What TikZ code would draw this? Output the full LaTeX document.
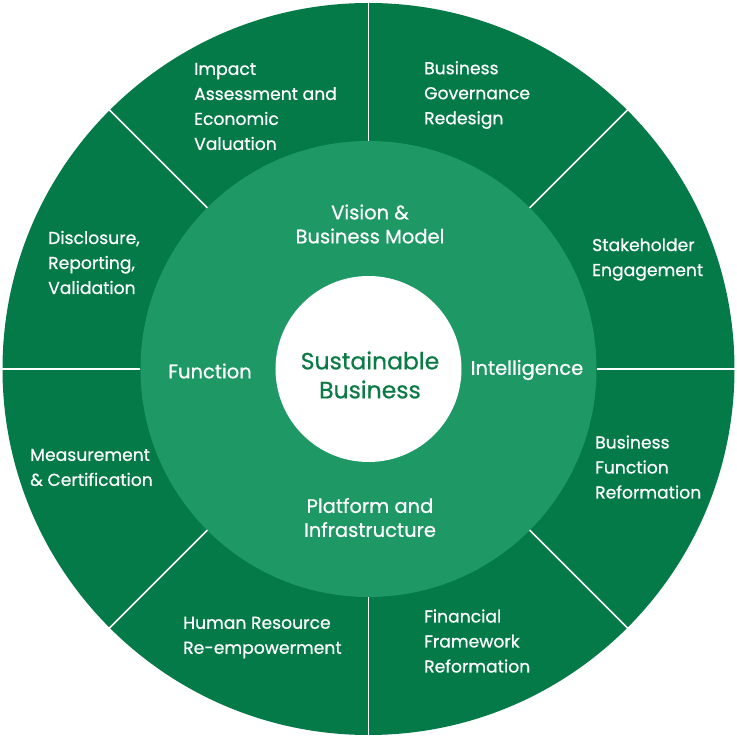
\documentclass[tikz,border=0pt]{standalone}
\usepackage{fontspec}
\setmainfont{Poppins}[FakeBold=0.6]
\usepackage{tikz}

\definecolor{ringdark}{HTML}{037A47}
\definecolor{ringlight}{HTML}{1E9966}
\definecolor{coretext}{HTML}{0B7A45}

\tikzset{
  outerlabel/.style={text=white, align=left, anchor=west, inner sep=0pt,
    font=\fontsize{17.2}{25}\selectfont},
  midlabel/.style={text=white, align=center, inner sep=0pt,
    font=\fontsize{19.5}{24}\selectfont},
  corelabel/.style={text=coretext, align=center, inner sep=0pt,
    font=\fontsize{23.5}{29}\selectfont}
}

\begin{document}
\begin{tikzpicture}[x=1pt,y=1pt]
  \useasboundingbox (-368.5,-369) rectangle (367.5,369);
  \fill[ringdark] (0,0) circle (366);
  \fill[ringlight] (0,0) circle (228);
  \fill[white] (0,0) circle (93);
  \foreach \a in {0,45,...,315}
    \draw[white, line width=1.6pt] (\a:228) -- (\a:367);

  % outer ring
  \node[outerlabel] at (-174.5,262.5) (IMP) {Impact\\Assessment and\\Economic\\Valuation};
  \node[outerlabel] at (55.5,274) (GOV) {Business\\Governance\\Redesign};
  \node[outerlabel] at (223.5,109.5) (STK) {Stakeholder\\Engagement};
  \node[outerlabel] at (226.5,-98) (BFR) {Business\\Function\\Reformation};
  \node[outerlabel] at (55.5,-272) (FIN) {Financial\\Framework\\Reformation};
  \node[outerlabel] at (-185.5,-268.5) (HRR) {Human Resource\\Re-empowerment};
  \node[outerlabel] at (-338.5,-98.5) (MEA) {Measurement\\\& Certification};
  \node[outerlabel] at (-320.5,106.5) (DIS) {Disclosure,\\Reporting,\\Validation};

  % middle ring
  \node[midlabel] at (1.5,145) (VIS) {Vision \&\\Business Model};
  \node[midlabel] at (158.5,-1) (INT) {Intelligence};
  \node[midlabel] at (1.5,-148.5) (PLA) {Platform and\\Infrastructure};
  \node[midlabel] at (-158.5,-2) (FUN) {Function};

  \node[corelabel] at (1.5,-6) (SB) {Sustainable\\Business};
\end{tikzpicture}
\end{document}
